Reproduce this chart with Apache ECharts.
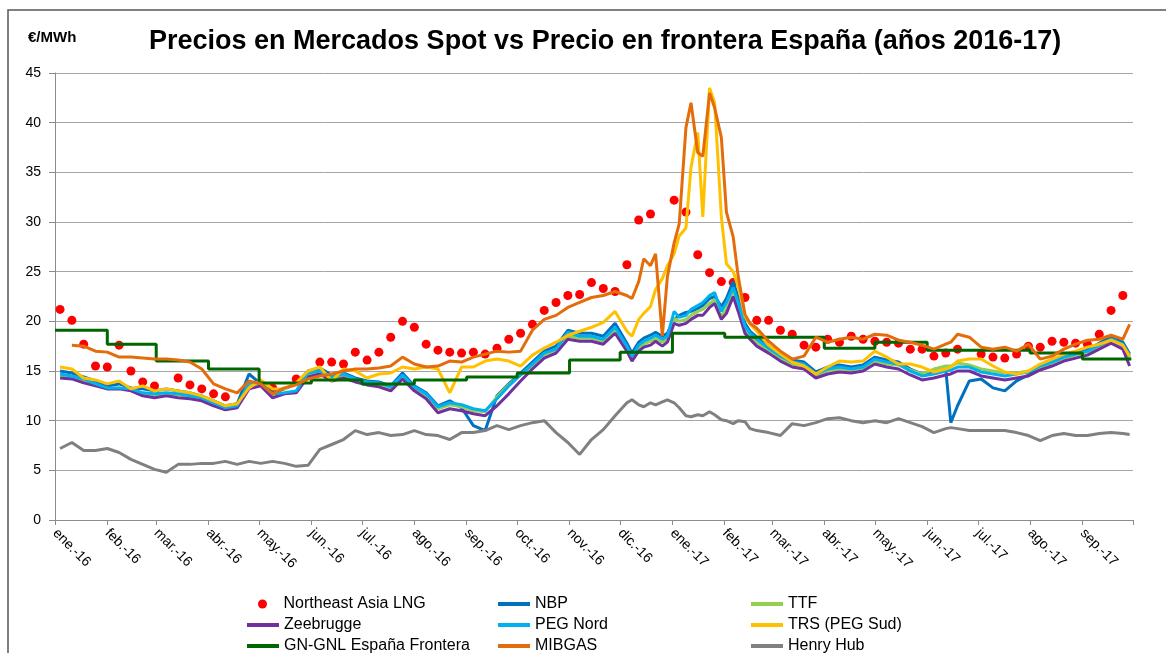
<!DOCTYPE html>
<html>
<head>
<meta charset="utf-8">
<script src="https://cdn.jsdelivr.net/npm/echarts@6/dist/echarts.min.js"></script>
<style>
html,body{margin:0;padding:0;background:#fff;}
#c{width:1166px;height:653px;}
</style>
</head>
<body>
<div id="c"></div>
<script>
// ---------- DATA ----------
const dates = [
'2016-01-04','2016-01-11','2016-01-18','2016-01-25','2016-02-01','2016-02-08','2016-02-15','2016-02-22','2016-02-29','2016-03-07',
'2016-03-14','2016-03-21','2016-03-28','2016-04-04','2016-04-11','2016-04-18','2016-04-25','2016-05-02','2016-05-09','2016-05-16',
'2016-05-23','2016-05-30','2016-06-06','2016-06-13','2016-06-20','2016-06-27','2016-07-04','2016-07-11','2016-07-18','2016-07-25',
'2016-08-01','2016-08-08','2016-08-15','2016-08-22','2016-08-29','2016-09-05','2016-09-12','2016-09-19','2016-09-26','2016-10-03',
'2016-10-10','2016-10-17','2016-10-24','2016-10-31','2016-11-07','2016-11-14','2016-11-21','2016-11-28','2016-12-05','2016-12-08',
'2016-12-12','2016-12-15','2016-12-19','2016-12-22','2016-12-26','2016-12-29','2017-01-02','2017-01-05','2017-01-09','2017-01-12',
'2017-01-16','2017-01-19','2017-01-23','2017-01-26','2017-01-30','2017-02-02','2017-02-06','2017-02-09','2017-02-13','2017-02-16',
'2017-02-20','2017-02-27','2017-03-06','2017-03-13','2017-03-20','2017-03-27','2017-04-03','2017-04-10','2017-04-17','2017-04-24',
'2017-05-01','2017-05-08','2017-05-15','2017-05-22','2017-05-29','2017-06-05','2017-06-12','2017-06-15','2017-06-19','2017-06-26',
'2017-07-03','2017-07-10','2017-07-17','2017-07-24','2017-07-31','2017-08-07','2017-08-14','2017-08-21','2017-08-28','2017-09-04',
'2017-09-11','2017-09-18','2017-09-25','2017-09-29'
];

const northeastAsiaLNG = [
21.2,20.1,17.7,15.5,15.4,17.6,15.0,13.9,13.5,null,
14.3,13.6,13.2,12.7,12.4,null,null,null,13.3,null,
14.2,null,15.9,15.9,15.7,16.9,16.1,16.9,18.4,20.0,
19.4,17.7,17.1,16.9,16.8,16.9,16.7,17.3,18.2,18.8,
19.7,21.1,21.9,22.6,22.7,23.9,23.3,23.0,25.7,null,
30.2,null,30.8,null,null,null,32.2,null,31.0,null,
26.7,null,24.9,null,24.0,null,23.9,null,22.4,null,
20.1,20.1,19.1,18.7,17.6,17.4,18.2,17.9,18.5,18.2,
18.0,17.9,17.8,17.2,17.2,16.5,16.8,null,17.2,null,
16.7,16.4,16.3,16.7,17.5,17.4,18.0,17.9,17.8,17.7,
18.7,21.1,22.6,null
];

const nbp = [
15.0,14.8,14.4,14.0,13.5,13.7,13.3,13.2,13.0,13.2,
13.0,12.8,12.5,12.0,11.5,11.7,14.7,13.7,12.8,13.2,
13.7,15.0,15.3,14.6,14.8,14.3,14.0,13.9,13.5,14.8,
13.5,12.8,11.5,12.0,11.3,9.5,9.0,12.5,13.7,14.8,
15.9,17.0,17.5,19.1,18.8,18.8,18.5,19.8,17.8,16.8,
17.9,18.3,18.6,18.9,18.5,18.8,20.2,20.6,20.9,21.0,
21.3,21.6,22.3,22.5,21.5,22.3,24.0,22.4,19.8,19.0,
18.4,17.5,16.7,16.1,15.9,14.9,15.4,15.6,15.4,15.6,
16.4,16.1,15.9,15.2,14.7,14.9,15.2,9.8,11.5,14.0,
14.2,13.3,13.0,14.0,14.6,15.4,15.9,16.4,16.8,17.1,
17.8,18.5,17.9,16.7
];

const ttf = [
14.6,14.4,14.0,13.6,13.2,13.3,13.1,12.7,12.6,12.7,
12.6,12.4,12.2,11.7,11.2,11.4,13.6,13.7,12.5,12.7,
12.9,14.6,14.9,14.2,14.5,14.1,13.8,13.6,13.2,14.4,
13.2,12.5,11.2,11.6,11.4,11.0,10.9,12.4,13.6,14.6,
15.5,16.6,17.0,18.5,18.3,18.3,18.0,19.1,17.3,16.3,
17.3,17.7,18.0,18.3,17.9,18.2,20.3,20.0,20.2,20.6,
21.0,21.2,21.8,22.2,20.5,21.2,22.9,21.4,19.2,18.5,
17.9,17.1,16.3,15.7,15.5,14.6,15.0,15.2,15.1,15.3,
16.0,15.7,15.6,15.1,14.7,15.2,15.5,15.5,15.8,15.6,
15.2,15.0,14.8,14.8,15.0,15.4,15.8,16.3,16.6,16.9,
17.5,18.1,17.5,16.3
];

const zeebrugge = [
14.3,14.2,13.8,13.5,13.2,13.2,13.0,12.5,12.3,12.5,
12.3,12.2,12.0,11.5,11.1,11.3,13.2,13.5,12.3,12.7,
12.8,14.4,14.7,14.0,14.3,13.9,13.6,13.4,13.0,14.2,
13.0,12.2,10.8,11.2,11.0,10.7,10.5,11.5,12.7,14.0,
15.2,16.3,16.8,18.2,18.0,18.0,17.7,18.8,17.0,16.0,
17.0,17.4,17.6,18.0,17.5,17.9,19.8,19.6,19.8,20.2,
20.6,20.6,21.4,21.8,20.2,20.8,22.5,21.0,18.8,18.2,
17.5,16.8,16.0,15.4,15.2,14.3,14.7,14.9,14.8,15.0,
15.7,15.4,15.2,14.6,14.1,14.3,14.6,14.7,15.0,15.0,
14.5,14.3,14.1,14.3,14.5,15.1,15.5,16.0,16.3,16.6,
17.2,17.8,17.2,15.5
];

const pegNord = [
14.7,14.5,14.2,13.7,13.3,13.3,13.2,12.8,12.7,12.8,
12.7,12.5,12.3,11.8,11.3,11.5,13.8,13.8,12.7,12.8,
13.0,14.8,15.0,14.4,14.7,14.2,13.9,13.8,13.4,14.6,
13.4,12.7,11.4,11.8,11.6,11.2,11.0,12.2,13.5,14.6,
15.7,16.8,17.2,18.9,18.5,18.5,18.2,19.4,17.5,16.5,
17.6,18.0,18.3,18.6,18.2,18.5,21.0,20.4,20.6,21.2,
21.6,21.9,22.6,22.9,21.0,21.9,23.4,21.9,19.5,18.8,
18.2,17.3,16.5,15.9,15.7,14.7,15.2,15.4,15.2,15.4,
16.2,15.9,15.7,15.0,14.5,14.7,15.0,15.1,15.4,15.4,
14.9,14.7,14.5,14.7,14.9,15.5,15.9,16.4,16.7,17.0,
17.6,18.2,17.7,16.5
];

const trsPegSud = [
15.4,15.2,14.3,14.1,13.7,14.0,13.2,13.5,13.0,13.2,
13.0,12.8,12.5,12.0,11.5,11.7,13.3,14.1,13.2,13.2,
13.8,15.0,15.4,14.0,15.2,15.0,14.3,14.7,14.8,15.4,
15.2,15.4,15.2,12.8,15.4,15.4,16.0,16.2,16.0,15.5,
16.6,17.3,17.9,18.6,19.0,19.4,19.9,21.0,19.0,18.5,
20.2,20.8,21.5,23.2,24.3,25.6,26.8,28.6,29.4,35.5,
39.0,30.5,43.5,42.0,30.5,25.8,25.0,23.5,20.5,19.7,
19.0,17.6,16.7,15.9,15.5,14.7,15.4,16.0,15.9,16.0,
17.0,16.4,15.7,15.7,15.4,14.9,15.2,15.4,16.0,16.2,
16.2,15.5,14.9,14.7,15.0,15.7,16.2,16.7,17.0,17.4,
17.7,18.1,17.6,16.5
];

const mibgas = [
null,17.6,17.5,17.0,16.9,16.4,16.4,16.3,16.2,16.2,
16.1,15.9,15.2,13.7,13.2,12.8,14.0,13.7,12.7,13.3,
13.6,14.2,14.5,14.7,15.0,15.2,15.2,15.3,15.5,16.4,
15.7,15.4,15.5,16.0,15.9,16.4,16.7,17.0,16.9,17.0,
19.1,20.2,20.6,21.4,21.9,22.4,22.6,23.0,22.6,22.3,
24.0,26.3,25.6,26.8,18.5,24.5,27.9,29.8,39.5,42.0,
37.0,36.6,43.0,41.5,38.5,31.0,28.5,24.5,20.7,19.8,
19.3,18.0,17.0,16.2,16.5,18.4,17.9,18.2,18.4,18.2,
18.7,18.6,18.1,17.9,17.6,17.2,17.7,17.9,18.7,18.4,
17.4,17.2,17.4,17.0,17.7,16.2,16.5,17.2,17.7,18.1,
18.2,18.6,18.2,19.7
];

const henryHub = [
7.2,7.8,7.0,7.0,7.2,6.8,6.1,5.6,5.1,4.8,
5.6,5.6,5.7,5.7,5.9,5.6,5.9,5.7,5.9,5.7,
5.4,5.5,7.1,7.6,8.1,9.0,8.6,8.8,8.5,8.6,
9.0,8.6,8.5,8.1,8.8,8.8,9.0,9.5,9.1,9.5,
9.8,10.0,8.8,7.8,6.6,8.1,9.1,10.5,11.8,12.1,
11.6,11.4,11.8,11.6,11.9,12.1,11.8,11.3,10.5,10.4,
10.6,10.5,10.9,10.6,10.1,10.0,9.7,10.0,9.9,9.2,
9.0,8.8,8.5,9.7,9.5,9.8,10.2,10.3,10.0,9.8,
10.0,9.8,10.2,9.8,9.4,8.8,9.2,9.3,9.2,9.0,
9.0,9.0,9.0,8.8,8.5,8.0,8.5,8.7,8.5,8.5,
8.7,8.8,8.7,8.6
];

// GN-GNL España Frontera: monthly step values
const frontierDates = [
'2016-01-01','2016-02-01','2016-03-01','2016-04-01','2016-05-01','2016-06-01','2016-07-01','2016-08-01','2016-09-01','2016-10-01','2016-11-01','2016-12-01',
'2017-01-01','2017-02-01','2017-03-01','2017-04-01','2017-05-01','2017-06-01','2017-07-01','2017-08-01','2017-09-01','2017-09-30'
];
const frontierValues = [
19.1,17.7,16.0,15.2,13.8,14.1,13.7,14.1,14.4,14.8,16.1,16.9,
18.8,18.4,18.4,17.3,17.9,17.1,17.1,16.8,16.2,16.2
];

const monthLabels = ['ene.','feb.','mar.','abr.','may.','jun.','jul.','ago.','sep.','oct.','nov.','dic.'];
const yTicks = {min: 0, max: 45, interval: 5};

// ---------- CHART ----------
const FONT = "'Liberation Sans', Arial, Helvetica, sans-serif";
const chart = echarts.init(document.getElementById('c'), null, {renderer: 'canvas'});

function pairs(vals) { return dates.map((d, i) => [d, vals[i]]); }
function lineSeries(name, color, vals) {
  return {
    name: name, type: 'line', data: pairs(vals),
    symbol: 'none', showSymbol: false,
    lineStyle: {color: color, width: 3},
    itemStyle: {color: color},
    emphasis: {disabled: true},
    z: 3,
    animation: false
  };
}

// legend: 3 columns x 3 rows, one legend component per entry
const legendCols = [247, 498, 751];
const legendRows = [596, 617, 638];
const legendLayout = [
  ['Northeast Asia LNG', 0, 0], ['NBP', 1, 0], ['TTF', 2, 0],
  ['Zeebrugge', 0, 1], ['PEG Nord', 1, 1], ['TRS (PEG Sud)', 2, 1],
  ['GN-GNL España Frontera', 0, 2], ['MIBGAS', 1, 2], ['Henry Hub', 2, 2]
];
const legends = legendLayout.map(function (e) {
  const isDot = e[0] === 'Northeast Asia LNG';
  return {
    data: [e[0]],
    left: legendCols[e[1]] + (isDot ? 11 : 0), top: legendRows[e[2]], padding: 0,
    itemWidth: 32, itemHeight: isDot ? 9 : 4,
    icon: isDot ? 'circle' : 'rect',
    selectedMode: false,
    textStyle: {fontFamily: FONT, fontSize: 16, lineHeight: 16, color: '#000'}
  };
});

const option = {
  animation: false,
  backgroundColor: '#fff',
  title: {
    text: 'Precios en Mercados Spot vs Precio en frontera España (años 2016-17)',
    left: 149, top: 28, padding: 0,
    textStyle: {fontFamily: FONT, fontSize: 27, fontWeight: 'bold', color: '#000'}
  },
  graphic: [
    {type: 'rect', silent: true, z: -1,
     shape: {x: 8, y: 10, width: 1175, height: 660},
     style: {fill: 'none', stroke: '#555', lineWidth: 1.5}},
    {type: 'text', left: 28, top: 30, silent: true,
     style: {text: '€/MWh', font: 'bold 15px ' + FONT, fill: '#000'}}
  ],
  grid: {left: 55, right: 33, top: 73, bottom: 133},
  xAxis: {
    type: 'time',
    min: '2016-01-01', max: '2017-10-01',
    splitNumber: 21,
    minInterval: 28 * 86400000, maxInterval: 31 * 86400000,
    axisLine: {lineStyle: {color: '#8c8c8c', width: 1}},
    axisTick: {show: true, length: 5, lineStyle: {color: '#8c8c8c'}},
    splitLine: {show: false},
    axisLabel: {
      rotate: -45, margin: 11,
      fontFamily: FONT, fontSize: 14, color: '#000',
      formatter: function (v) {
        const d = new Date(v);
        if (d.getFullYear() === 2017 && d.getMonth() >= 9) return '';
        return monthLabels[d.getMonth()] + '-' + String(d.getFullYear()).slice(2);
      }
    }
  },
  yAxis: {
    type: 'value', min: yTicks.min, max: yTicks.max, interval: yTicks.interval,
    axisLine: {show: true, lineStyle: {color: '#8c8c8c', width: 1}},
    axisTick: {show: true, length: 6, lineStyle: {color: '#8c8c8c'}},
    splitLine: {lineStyle: {color: '#a6a6a6', width: 1}},
    axisLabel: {fontFamily: FONT, fontSize: 14, color: '#000', margin: 14}
  },
  legend: legends,
  series: [
    {
      name: 'Northeast Asia LNG', type: 'scatter',
      data: pairs(northeastAsiaLNG).filter(p => p[1] !== null),
      symbol: 'circle', symbolSize: 9,
      itemStyle: {color: '#ff0000', opacity: 1},
      emphasis: {disabled: true}, z: 1, animation: false
    },
    lineSeries('NBP', '#0070c0', nbp),
    lineSeries('TTF', '#92d050', ttf),
    lineSeries('Zeebrugge', '#7030a0', zeebrugge),
    lineSeries('PEG Nord', '#00b0f0', pegNord),
    lineSeries('TRS (PEG Sud)', '#ffc000', trsPegSud),
    {
      name: 'GN-GNL España Frontera', type: 'line', step: 'end',
      data: frontierDates.map((d, i) => [d, frontierValues[i]]),
      symbol: 'none', showSymbol: false,
      lineStyle: {color: '#006600', width: 3},
      itemStyle: {color: '#006600'},
      emphasis: {disabled: true}, z: 3, animation: false
    },
    lineSeries('MIBGAS', '#e46c0a', mibgas),
    lineSeries('Henry Hub', '#808080', henryHub)
  ]
};
chart.setOption(option);
</script>
</body>
</html>
